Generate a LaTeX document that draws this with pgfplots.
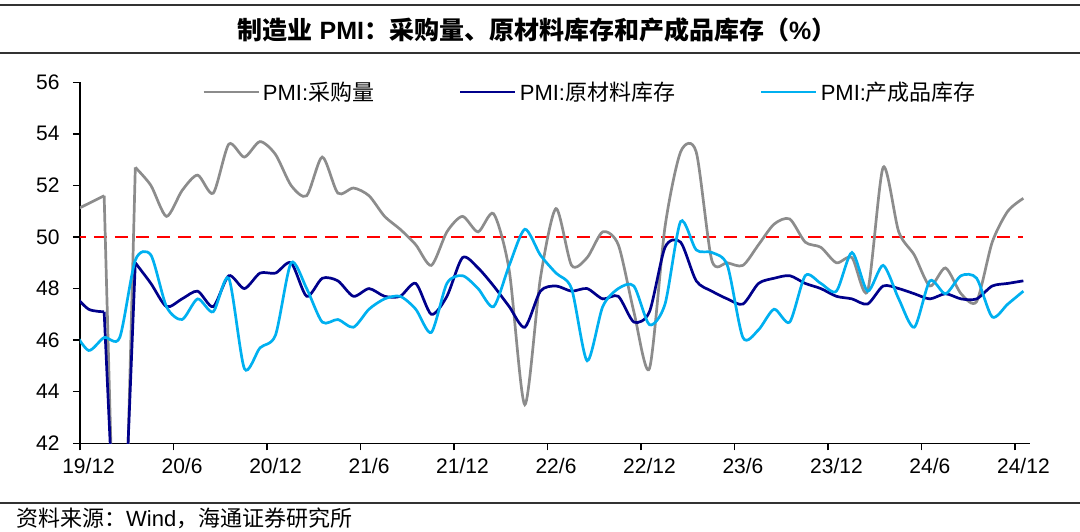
\documentclass[border=0pt]{standalone}
\usepackage{fontspec}
\setmainfont{Liberation Sans}
\newfontfamily\cjk{Noto Sans CJK SC}
\usepackage{pgfplots}
\pgfplotsset{compat=1.18}
\usepackage{pgfplotstable}

\definecolor{cgray}{RGB}{140,140,140}
\definecolor{cnavy}{RGB}{0,0,139}
\definecolor{clblue}{RGB}{0,176,240}
\definecolor{cred}{RGB}{255,0,0}
\definecolor{cline}{RGB}{50,50,50}

% m: months after 2019/12 (Dec 2019 = 0)
\pgfplotstableread{
m purchase rawinv fininv
-1 51.0 47.8 46.4
0 51.3 47.2 45.6
1 51.6 47.1 46.1
2 29.3 33.9 46.1
3 52.7 49.0 49.1
4 52.0 48.2 49.3
5 50.8 47.3 47.3
6 51.8 47.6 46.8
7 52.4 47.9 47.6
8 51.7 47.3 47.1
9 53.6 48.5 48.4
10 53.1 48.0 44.9
11 53.7 48.6 45.7
12 53.2 48.6 46.2
13 52.0 49.0 49.0
14 51.6 47.7 48.0
15 53.1 48.4 46.7
16 51.7 48.3 46.8
17 51.9 47.7 46.5
18 51.6 48.0 47.2
19 50.8 47.7 47.6
20 50.3 47.7 47.7
21 49.7 48.2 47.2
22 48.9 47.0 46.3
23 50.2 47.7 48.2
24 50.8 49.2 48.5
25 50.2 48.8 48.0
26 50.9 48.1 47.3
27 48.7 47.3 48.9
28 43.5 46.5 50.3
29 48.4 47.9 49.3
30 51.1 48.1 48.6
31 48.9 47.9 48.0
32 49.2 48.0 45.2
33 50.2 47.6 47.3
34 49.7 47.7 48.0
35 47.1 46.7 48.1
36 44.9 47.1 46.6
37 50.4 49.6 47.4
38 53.3 49.8 50.6
39 53.3 48.3 49.5
40 49.1 47.9 49.4
41 49.0 47.6 48.9
42 48.9 47.4 46.1
43 49.7 48.2 46.4
44 50.5 48.4 47.2
45 50.7 48.5 46.7
46 49.8 48.2 48.5
47 49.6 48.0 48.2
48 49.0 47.7 47.9
49 49.2 47.6 49.4
50 47.9 47.4 47.9
51 52.7 48.1 48.9
52 50.2 48.0 47.6
53 49.3 47.8 46.5
54 48.1 47.6 48.3
55 48.8 47.8 47.8
56 47.8 47.6 48.5
57 47.5 47.6 48.4
58 49.8 48.1 46.9
59 51.0 48.2 47.4
60 51.5 48.3 47.9
}\datatable

\begin{document}
\begin{tikzpicture}
\path[use as bounding box] (0,0) rectangle (1080pt,532pt);
% title block
\draw[line width=2.7pt, cline] (0pt,527pt) -- (1080pt,527pt);
\draw[line width=2.7pt, cline] (0pt,479pt) -- (1080pt,479pt);
\node[inner sep=0pt] at (537pt,502pt) {\fontsize{25}{30}\selectfont\bfseries{\cjk 制造业} PMI{\cjk ：采购量、原材料库存和产成品库存（}\%{\cjk ）}};
% footer
\draw[line width=2.7pt, cline] (0pt,29pt) -- (1080pt,29pt);
\node[anchor=west, inner sep=0pt] at (16pt,14pt) {\fontsize{22}{26}\selectfont{\cjk 资料来源：}Wind{\cjk ，海通证券研究所}};

\begin{axis}[
  at={(80pt,88.7pt)}, anchor=south west,
  scale only axis, width=949.6pt, height=361pt,
  xmin=-0.55, xmax=60.4, ymin=42, ymax=56,
  axis lines=left,
  axis line style={line width=1.5pt, black, -},
  ytick={42,44,46,48,50,52,54,56},
  xtick={-0.55,5.45,11.45,17.45,23.45,29.45,35.45,41.45,47.45,53.45,59.45},
  xticklabels={19/12,20/6,20/12,21/6,21/12,22/6,22/12,23/6,23/12,24/6,24/12},
  xticklabel style={xshift=8.6pt, yshift=-4pt},
  yticklabel style={xshift=-10pt},
  tick align=outside,
  major tick length=7pt,
  tick style={line width=1.5pt, black},
  tick label style={font=\fontsize{21}{24}\selectfont},
  /pgf/number format/assume math mode=true,
  clip=true,
  legend columns=3,
  legend style={
    at={(0.1285,0.973)}, anchor=west,
    draw=none, fill=none, inner sep=0pt,
    font=\fontsize{22}{26}\selectfont,
    nodes={inner sep=0pt},
    /tikz/every even column/.append style={column sep=85pt},
    /tikz/every odd column/.append style={column sep=3pt},
  },
  legend image code/.code={\draw[#1, line width=2.7pt] (0pt,0pt) -- (55pt,0pt);},
]
\addplot[cred, line width=2.8pt, dash pattern=on 13pt off 8pt, forget plot] coordinates {(-1,50) (60,50)};
% purchase volume
\addplot[cgray, line width=2.7pt, smooth, tension=0.45, restrict x to domain=-1:1] table[x=m, y=purchase] {\datatable};
\addplot[cgray, line width=2.7pt, restrict x to domain=1:3, forget plot] table[x=m, y=purchase] {\datatable};
\addplot[cgray, line width=2.7pt, smooth, tension=0.45, restrict x to domain=3:60, forget plot] table[x=m, y=purchase] {\datatable};
% raw material inventory
\addplot[cnavy, line width=2.7pt, smooth, tension=0.45, restrict x to domain=-1:1] table[x=m, y=rawinv] {\datatable};
\addplot[cnavy, line width=2.7pt, restrict x to domain=1:3, forget plot] table[x=m, y=rawinv] {\datatable};
\addplot[cnavy, line width=2.7pt, smooth, tension=0.45, restrict x to domain=3:60, forget plot] table[x=m, y=rawinv] {\datatable};
% finished goods inventory
\addplot[clblue, line width=2.7pt, smooth, tension=0.45] table[x=m, y=fininv] {\datatable};
\legend{PMI:{\cjk 采购量}, PMI:{\cjk 原材料库存}, PMI:{\cjk 产成品库存}}
\end{axis}
\end{tikzpicture}
\end{document}
